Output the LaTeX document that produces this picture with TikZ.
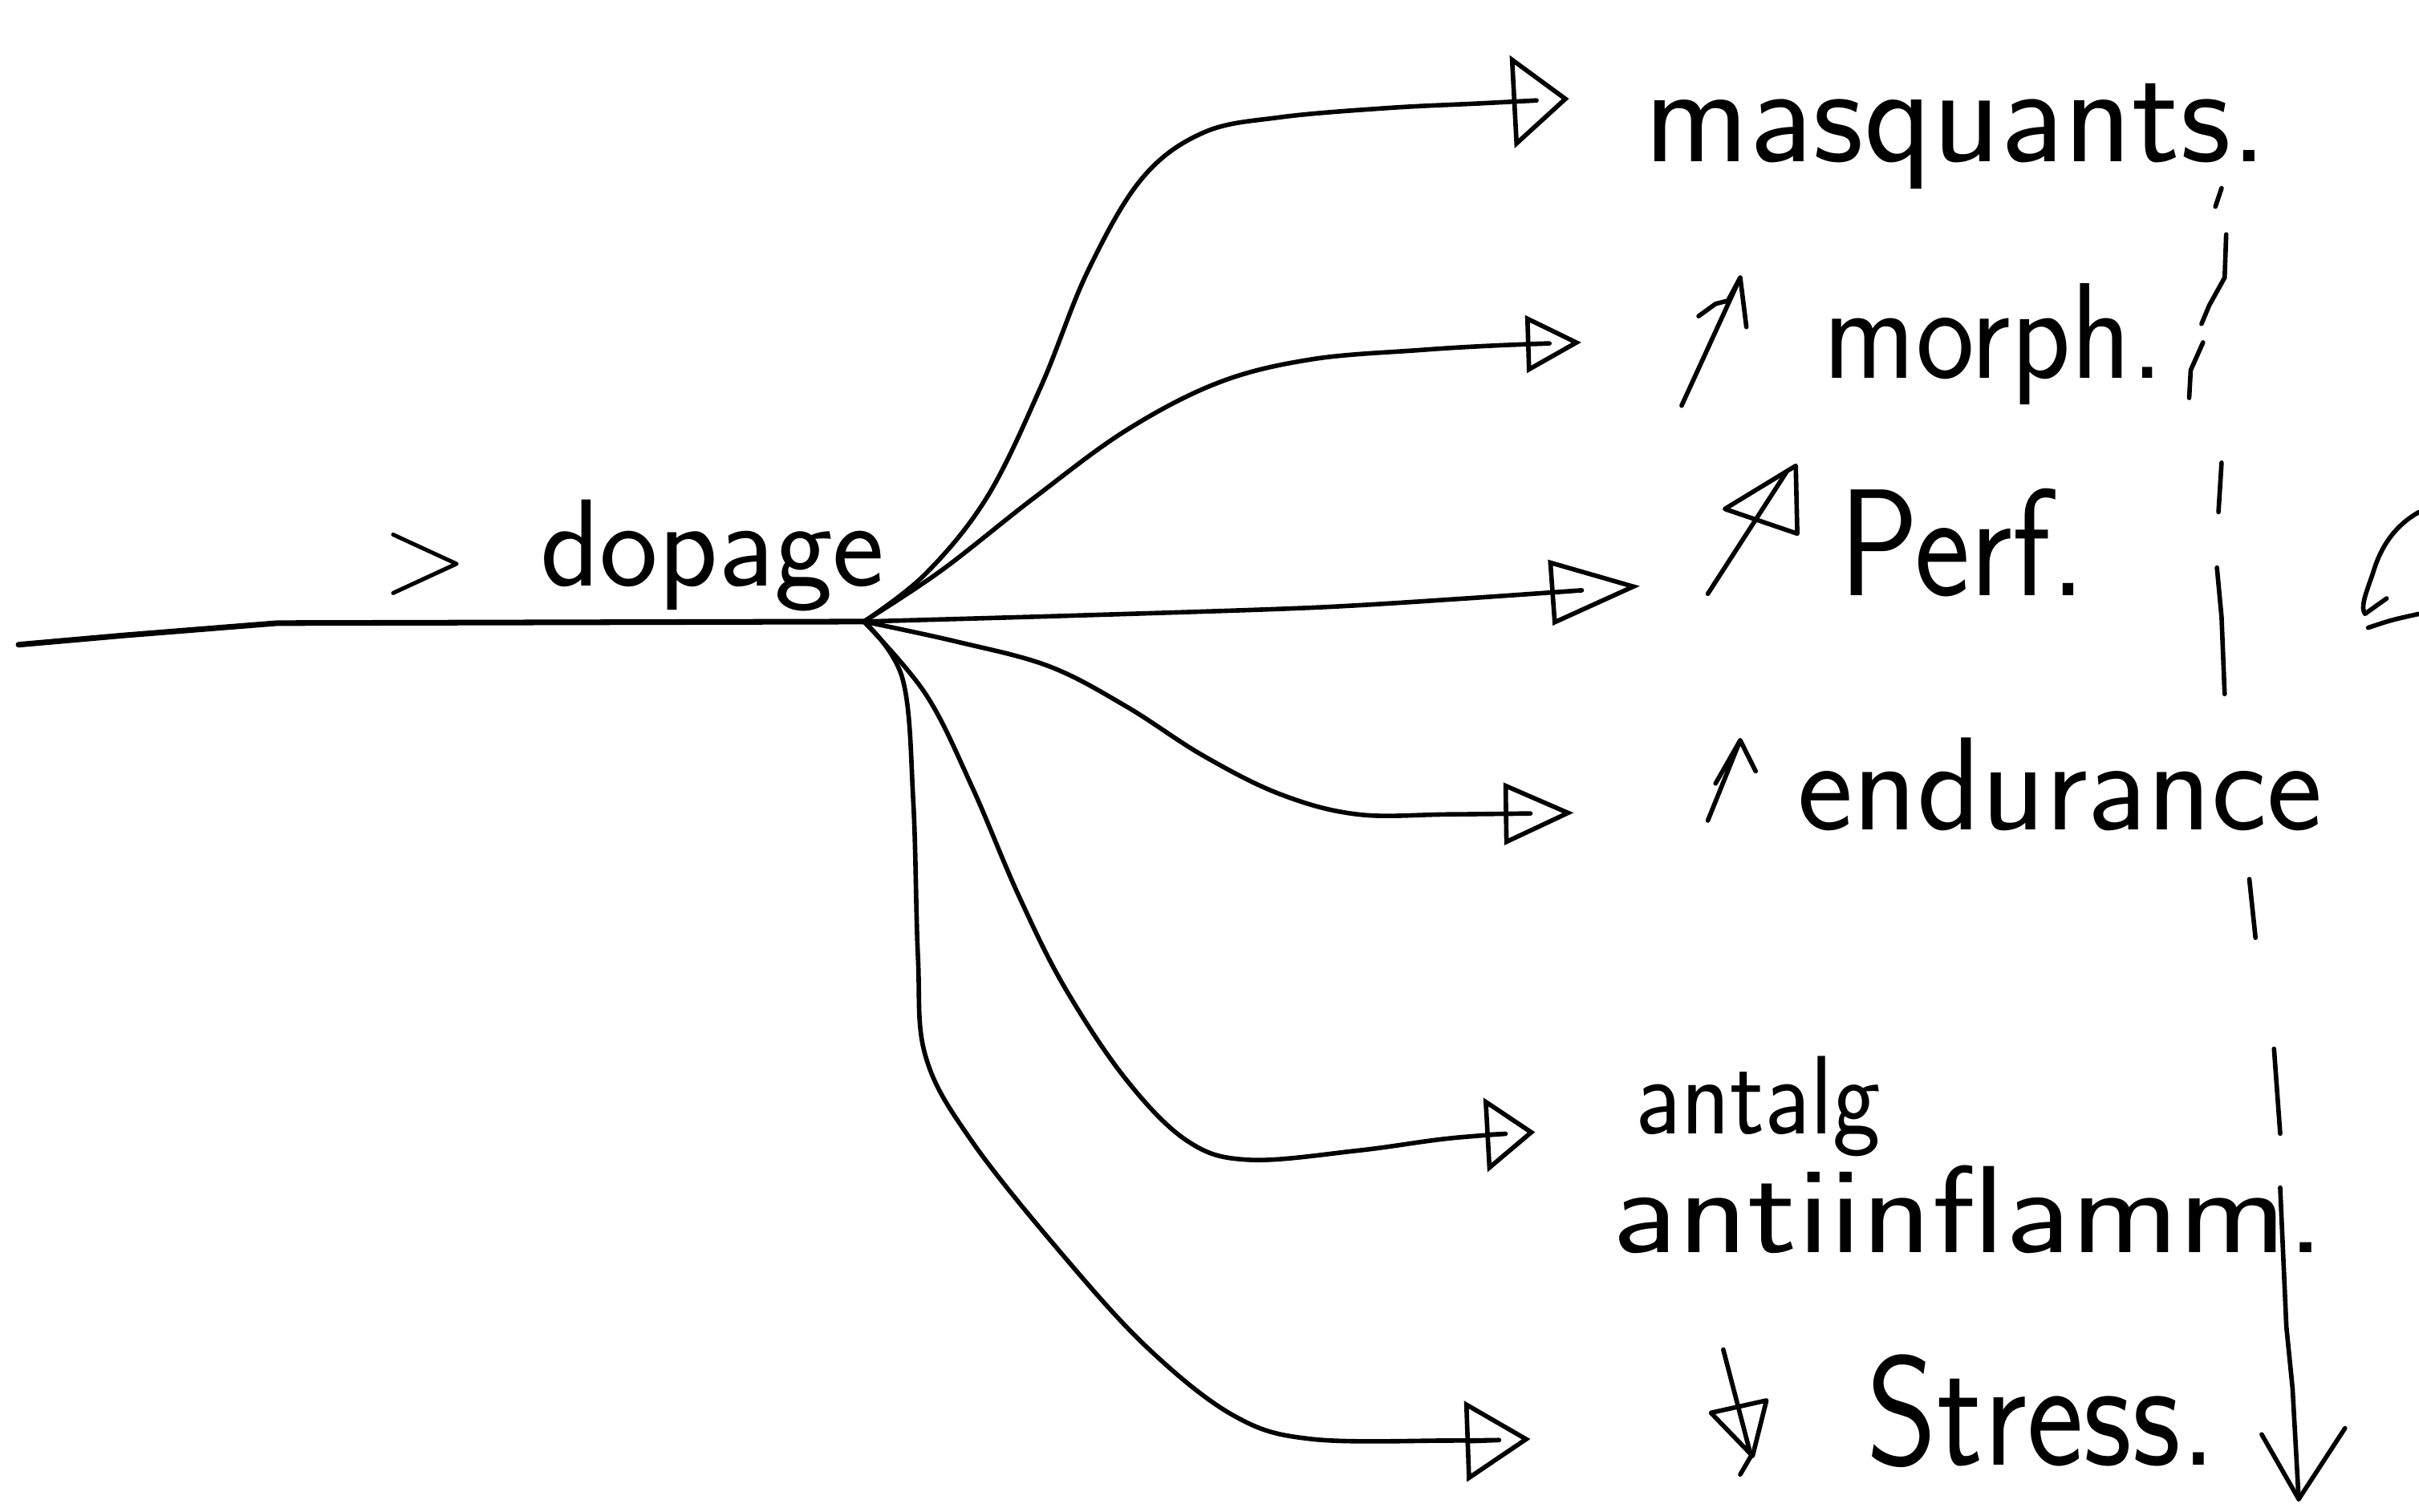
\documentclass[tikz,border=0pt]{standalone}
\usepackage{fontspec}
\usetikzlibrary{arrows.meta}
\begin{document}
\begin{tikzpicture}[x=0.0192283cm, y=-0.0192283cm,
  line cap=round, line join=round,
  pen/.style={line width=1.6pt, black},
  axisline/.style={line width=2pt, black},
  tipp/.style 2 args={pen, -{Triangle[open, length=#1, width=#2]}},
  lbl/.style={anchor=base west, inner sep=0pt, outer sep=0pt},
  fs/.style={font=\sffamily\fontsize{#1}{#1}\selectfont}]
\useasboundingbox (0,0) rectangle (1568,980);

% hub where every branch starts
\coordinate (west) at (12,418);
\coordinate (hub) at (560,403);

% branch end points (tips of the open arrowheads)
\coordinate (t1) at (1017,64);
\coordinate (t2) at (1025,222);
\coordinate (t3) at (1063,380);
\coordinate (t4) at (1020,527);
\coordinate (t5) at (995,734);
\coordinate (t6) at (992,933);

% incoming line
\draw[axisline] (west) -- (80,412) -- (180,404) -- (hub);

% branches
\draw[tipp={0.71cm}{1.15cm}] plot[smooth, tension=0.6] coordinates
  {(hub) (600,372) (640,322) (675,250) (705,176) (740,116) (780,86) (830,76) (900,70) (960,67) (t1)};
\draw[tipp={0.69cm}{0.71cm}] plot[smooth, tension=0.6] coordinates
  {(hub) (610,370) (670,323) (730,279) (790,248) (850,233) (920,227) (970,224) (t2)};
\draw[tipp={1.12cm}{0.81cm}] plot[smooth, tension=0.5] coordinates
  {(hub) (700,399) (850,394) (950,388) (t3)};
\draw[tipp={0.87cm}{0.77cm}] plot[smooth, tension=0.6] coordinates
  {(hub) (620,416) (680,432) (730,458) (780,490) (830,515) (880,528) (940,528) (t4)};
\draw[tipp={0.62cm}{0.92cm}] plot[smooth, tension=0.6] coordinates
  {(hub) (600,450) (630,510) (660,580) (690,640) (730,700) (770,740) (810,752) (880,746) (940,738) (t5)};
\draw[tipp={0.81cm}{1.0cm}] plot[smooth, tension=0.6] coordinates
  {(hub) (585,440) (592,520) (595,620) (600,685) (630,740) (690,815) (745,875) (800,918) (850,933) (940,934) (t6)};

% labels
\node[lbl, fs=40] (gt) at (248,384) {>};
\node[lbl, fs=44] (dopage) at (350,380) {dopage};
\node[lbl, fs=50] (masq) at (1066,105) {masquants.};
\node[lbl, fs=44, yscale=1.1] (morph) at (1182,245) {morph.};
\node[lbl, fs=47, yscale=1.15] (perf) at (1192,386) {Perf.};
\node[lbl, fs=47] (endur) at (1165,538) {endurance};
\node[lbl, fs=36, yscale=1.1] (antalg) at (1060,735) {antalg};
\node[lbl, fs=44, xscale=1.17] (antiinf) at (1045,812) {antiinflamm.};
\node[lbl, fs=48, yscale=1.15] (stress) at (1210,950) {Stress.};

% small trend arrows in front of the labels
\draw[pen] (1090,263) -- (1128,180);
\draw[pen] (1101,205) -- (1112,197) -- (1120,195) -- (1128,180) -- (1132,212);
\draw[pen] (1107,385) -- (1158,306);
\draw[pen] (1118,330) -- (1164,302) -- (1165,346) -- cycle;
\draw[pen] (1107,532) -- (1128,480);
\draw[pen] (1112,508) -- (1128,480) -- (1138,500);
\draw[pen] (1117,875) -- (1135,944) -- (1128,956);
\draw[pen] (1109,916) -- (1145,908) -- (1136,944) -- cycle;

% broken vertical line ending in an arrow
\coordinate (dend) at (1490,972);
\draw[pen] (1440,122) -- (1436,134);
\draw[pen] (1443,152) -- (1442,180) -- (1432,198) -- (1427,210);
\draw[pen] (1428,222) -- (1420,240) -- (1419,258);
\draw[pen] (1440,300) -- (1438,332);
\draw[pen] (1437,368) -- (1440,400) -- (1442,450);
\draw[pen] (1458,570) -- (1462,608);
\draw[pen] (1474,680) -- (1478,735);
\draw[pen] (1478,770) -- (1482,860) -- (1486,900) -- (dend);
\draw[pen] (1466,930) -- (dend) -- (1520,926);

% mark cut by the right edge
\draw[pen] (1568,332) .. controls (1550,342) and (1542,358) .. (1538,372)
  .. controls (1533,386) and (1530,394) .. (1533,398) -- (1547,388);
\draw[pen] (1535,407) .. controls (1550,402) .. (1568,398);
\end{tikzpicture}
\end{document}
